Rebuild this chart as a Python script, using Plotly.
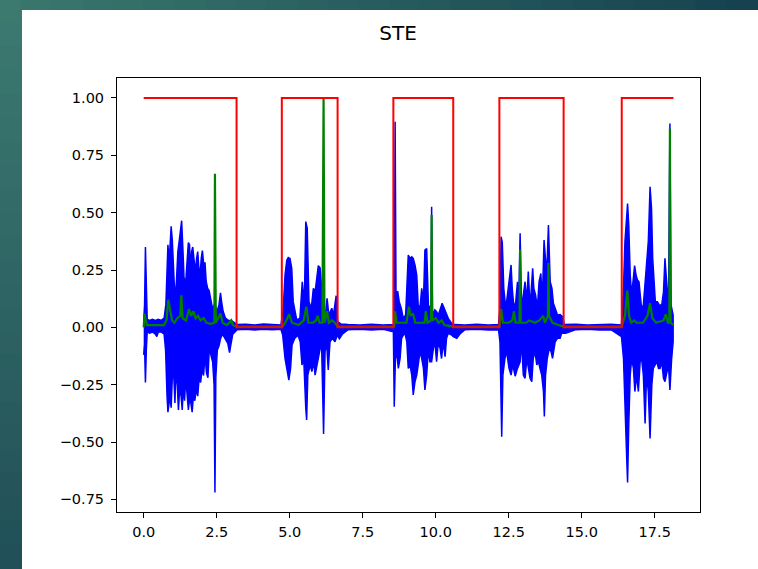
import plotly.graph_objects as go

# ---------------- data ----------------
# Signal envelope: upper and lower extents of the dense blue waveform
blue_hi_t = [0.00, 0.03, 0.06, 0.09, 0.12, 0.20, 0.30, 0.40, 0.50, 0.60, 0.70, 0.76, 0.80, 0.83, 0.87, 0.91, 0.94, 0.98,
             1.02, 1.07, 1.12, 1.17, 1.22, 1.27, 1.30, 1.34, 1.38, 1.43, 1.48, 1.53, 1.57, 1.60, 1.64, 1.68, 1.72, 1.77,
             1.81, 1.85, 1.89, 1.93, 1.97, 2.01, 2.05, 2.10, 2.14, 2.19, 2.24, 2.30, 2.36, 2.42, 2.46, 2.52, 2.58, 2.63,
             2.67, 2.72, 2.80, 2.90, 3.00, 3.10, 3.20, 3.50, 3.80, 4.10, 4.40, 4.70,
             4.78, 4.84, 4.90, 4.95, 5.01, 5.07, 5.12, 5.24, 5.35, 5.43, 5.50, 5.55, 5.60, 5.66, 5.74, 5.81, 5.87, 5.93,
             5.98, 6.04, 6.09, 6.15, 6.20, 6.28, 6.34, 6.44, 6.50, 6.59, 6.64, 6.75, 7.00, 7.40, 7.80, 8.20, 8.55,
             8.58, 8.61, 8.64, 8.70, 8.75, 8.82, 8.89, 8.97, 9.06, 9.12, 9.18, 9.23, 9.29, 9.35, 9.40, 9.46, 9.52, 9.58,
             9.63, 9.69, 9.75, 9.80, 9.84, 9.86, 9.89, 9.97, 10.03, 10.09, 10.15, 10.22, 10.29, 10.35, 10.43, 10.55,
             10.65, 11.00, 11.40, 11.80, 12.15,
             12.20, 12.24, 12.28, 12.33, 12.40, 12.47, 12.53, 12.58, 12.62, 12.68, 12.74, 12.80, 12.84, 12.89, 12.94,
             13.00, 13.06, 13.12, 13.17, 13.23, 13.29, 13.32, 13.36, 13.42, 13.48, 13.54, 13.60, 13.65, 13.71, 13.76,
             13.80, 13.86, 13.92, 13.98, 14.03, 14.09, 14.17, 14.26, 14.35, 14.40, 14.80, 15.20, 15.60, 16.00, 16.36,
             16.43, 16.48, 16.54, 16.57, 16.61, 16.66, 16.71, 16.77, 16.81, 16.86, 16.91, 16.96, 17.00, 17.05, 17.11,
             17.17, 17.22, 17.28, 17.34, 17.39, 17.43, 17.47, 17.52, 17.59, 17.66, 17.74, 17.80, 17.85, 17.91, 17.97,
             18.02, 18.06, 18.13]
blue_hi = [0.02, 0.10, 0.35, 0.12, 0.035, 0.03, 0.035, 0.03, 0.035, 0.03, 0.04, 0.10, 0.30, 0.36, 0.28, 0.40, 0.44, 0.38,
           0.22, 0.12, 0.20, 0.33, 0.38, 0.43, 0.465, 0.35, 0.22, 0.18, 0.30, 0.37, 0.36, 0.25, 0.33, 0.35, 0.30, 0.24,
           0.30, 0.33, 0.26, 0.22, 0.30, 0.335, 0.28, 0.28, 0.20, 0.17, 0.16, 0.11, 0.08, 0.10, 0.09, 0.07, 0.10, 0.15,
           0.11, 0.07, 0.04, 0.03, 0.03, 0.02, 0.012, 0.014, 0.010, 0.015, 0.012, 0.010,
           0.083, 0.228, 0.293, 0.304, 0.30, 0.257, 0.112, 0.032, 0.04, 0.199, 0.10, 0.461, 0.432, 0.112, 0.083, 0.170,
           0.155, 0.228, 0.269, 0.26, 0.170, 0.083, 0.025, 0.126, 0.054, 0.083, 0.054, 0.138, 0.025, 0.015, 0.012,
           0.010, 0.014, 0.010, 0.012,
           0.02, 0.896, 0.155, 0.155, 0.112, 0.083, 0.039, 0.054, 0.315, 0.301, 0.308, 0.301, 0.272, 0.228, 0.097,
           0.083, 0.170, 0.112, 0.337, 0.344, 0.097, 0.083, 0.10, 0.526, 0.054, 0.076, 0.068, 0.054, 0.083, 0.105,
           0.083, 0.061, 0.039, 0.017, 0.012, 0.010, 0.014, 0.010, 0.012,
           0.083, 0.395, 0.37, 0.170, 0.083, 0.155, 0.199, 0.272, 0.170, 0.083, 0.112, 0.199, 0.083, 0.410, 0.083,
           0.141, 0.199, 0.112, 0.243, 0.083, 0.228, 0.257, 0.170, 0.141, 0.083, 0.199, 0.235, 0.112, 0.381, 0.286,
           0.228, 0.446, 0.199, 0.170, 0.105, 0.083, 0.054, 0.056, 0.046, 0.012, 0.014, 0.010, 0.012, 0.014, 0.010,
           0.170, 0.374, 0.519, 0.540, 0.446, 0.228, 0.141, 0.228, 0.269, 0.228, 0.206, 0.199, 0.141, 0.083, 0.097,
           0.199, 0.308, 0.374, 0.613, 0.519, 0.301, 0.199, 0.112, 0.112, 0.097, 0.097, 0.155, 0.301, 0.170, 0.083,
           0.889, 0.097, 0.054]

blue_lo_t = [0.00, 0.03, 0.06, 0.09, 0.12, 0.20, 0.30, 0.40, 0.45, 0.50, 0.60, 0.70, 0.75, 0.80, 0.83, 0.86, 0.90, 0.94,
             0.98, 1.02, 1.07, 1.10, 1.15, 1.19, 1.23, 1.28, 1.32, 1.36, 1.40, 1.44, 1.48, 1.53, 1.58, 1.63, 1.66, 1.70,
             1.75, 1.80, 1.85, 1.90, 1.95, 2.00, 2.05, 2.10, 2.15, 2.20, 2.25, 2.30, 2.36, 2.41, 2.44, 2.47, 2.52, 2.58,
             2.63, 2.70, 2.80, 2.88, 2.94, 2.98, 3.05, 3.20, 3.50, 3.80, 4.10, 4.40, 4.70,
             4.76, 4.84, 4.90, 4.97, 5.03, 5.08, 5.17, 5.28, 5.36, 5.42, 5.48, 5.55, 5.58, 5.62, 5.70, 5.76, 5.82, 5.87,
             5.93, 6.00, 6.09, 6.16, 6.21, 6.26, 6.32, 6.38, 6.46, 6.55, 6.63, 6.70, 6.80, 7.00, 7.40, 7.80, 8.20,
             8.55, 8.58, 8.62, 8.66, 8.72, 8.78, 8.83, 8.89, 8.95, 9.01, 9.06, 9.12, 9.18, 9.23, 9.29, 9.35, 9.40, 9.46,
             9.52, 9.58, 9.63, 9.69, 9.75, 9.80, 9.86, 9.92, 9.97, 10.03, 10.09, 10.15, 10.20, 10.26, 10.32, 10.37,
             10.43, 10.55, 10.60, 10.72, 10.85, 11.00, 11.40, 11.80, 12.15,
             12.20, 12.26, 12.30, 12.37, 12.43, 12.51, 12.58, 12.64, 12.72, 12.80, 12.89, 12.94, 13.00, 13.06, 13.12,
             13.17, 13.23, 13.29, 13.34, 13.40, 13.46, 13.52, 13.57, 13.63, 13.69, 13.72, 13.76, 13.82, 13.89, 13.95,
             14.00, 14.09, 14.17, 14.26, 14.31, 14.45, 14.80, 15.20, 15.60, 16.00,
             16.36, 16.43, 16.48, 16.54, 16.57, 16.61, 16.66, 16.71, 16.77, 16.82, 16.88, 16.94, 17.00, 17.05, 17.11,
             17.17, 17.22, 17.28, 17.34, 17.40, 17.45, 17.51, 17.57, 17.63, 17.68, 17.74, 17.80, 17.85, 17.91, 17.97,
             18.02, 18.08, 18.13]
blue_lo = [-0.12, -0.08, -0.24, -0.10, -0.02, -0.025, -0.02, -0.03, -0.04, -0.02, -0.02, -0.03, -0.10, -0.30, -0.37,
           -0.36, -0.30, -0.35, -0.22, -0.18, -0.33, -0.20, -0.25, -0.36, -0.27, -0.30, -0.36, -0.25, -0.32, -0.22,
           -0.28, -0.36, -0.30, -0.34, -0.37, -0.30, -0.32, -0.27, -0.30, -0.22, -0.24, -0.18, -0.21, -0.12, -0.20,
           -0.22, -0.08, -0.12, -0.15, -0.25, -0.72, -0.22, -0.10, -0.08, -0.05, -0.03, -0.05, -0.07, -0.11, -0.08,
           -0.03, -0.010, -0.008, -0.012, -0.008, -0.010, -0.008,
           -0.034, -0.135, -0.179, -0.230, -0.179, -0.077, -0.048, -0.034, -0.063, -0.164, -0.135, -0.353, -0.404,
           -0.208, -0.164, -0.193, -0.150, -0.208, -0.179, -0.121, -0.063, -0.465, -0.106, -0.063, -0.186, -0.063,
           -0.048, -0.063, -0.034, -0.05, -0.03, -0.010, -0.008, -0.012, -0.008,
           -0.019, -0.346, -0.135, -0.106, -0.179, -0.135, -0.048, -0.034, -0.026, -0.063, -0.179, -0.164, -0.208,
           -0.295, -0.237, -0.208, -0.164, -0.106, -0.135, -0.179, -0.273, -0.208, -0.092, -0.150, -0.150, -0.092,
           -0.063, -0.150, -0.063, -0.092, -0.136, -0.063, -0.128, -0.048, -0.026, -0.034, -0.041, -0.048, -0.026,
           -0.010, -0.008, -0.012, -0.010,
           -0.063, -0.477, -0.208, -0.135, -0.106, -0.179, -0.208, -0.164, -0.213, -0.179, -0.150, -0.063, -0.208,
           -0.222, -0.135, -0.179, -0.222, -0.237, -0.135, -0.106, -0.164, -0.150, -0.179, -0.208, -0.280, -0.389,
           -0.208, -0.135, -0.092, -0.106, -0.135, -0.063, -0.048, -0.048, -0.026, -0.026, -0.010, -0.008, -0.012,
           -0.010,
           -0.040, -0.135, -0.324, -0.571, -0.676, -0.426, -0.208, -0.135, -0.179, -0.280, -0.208, -0.280, -0.150,
           -0.135, -0.208, -0.419, -0.208, -0.280, -0.484, -0.251, -0.179, -0.164, -0.150, -0.179, -0.179, -0.150,
           -0.222, -0.237, -0.208, -0.164, -0.273, -0.135, -0.063]

# Short-time energy (green)
ste_t = [0.00, 0.03, 0.07, 0.12, 0.70, 0.78, 0.84, 0.88, 0.92, 0.97, 1.05, 1.15, 1.25, 1.29, 1.33, 1.45, 1.55, 1.62,
         1.70, 1.78, 1.86, 1.95, 2.05, 2.15, 2.30, 2.42, 2.44, 2.47, 2.55, 2.63, 2.70, 2.85, 3.00, 3.05, 3.18, 4.75,
         4.85, 4.98, 5.08, 5.30, 5.48, 5.57, 5.64, 5.80, 5.90, 5.96, 6.02, 6.12, 6.16, 6.19, 6.28, 6.34, 6.45, 6.55,
         6.64, 8.58, 8.61, 8.66, 8.80, 9.00, 9.08, 9.14, 9.22, 9.30, 9.45, 9.62, 9.66, 9.72, 9.84, 9.86, 9.88, 10.00,
         10.10, 10.20, 10.30, 10.60, 12.18, 12.24, 12.30, 12.50, 12.62, 12.68, 12.73, 12.87, 12.89, 12.91, 13.10,
         13.20, 13.40, 13.55, 13.68, 13.74, 13.84, 13.86, 13.88, 14.00, 14.20, 14.38, 16.37, 16.48, 16.56, 16.62,
         16.70, 16.80, 16.88, 17.10, 17.25, 17.34, 17.42, 17.55, 17.80, 17.88, 17.95, 18.00, 18.02, 18.04, 18.14]
ste = [0.00, 0.06, 0.03, 0.01, 0.01, 0.03, 0.12, 0.09, 0.06, 0.03, 0.02, 0.04, 0.05, 0.14, 0.04, 0.03, 0.08, 0.05,
       0.07, 0.04, 0.05, 0.03, 0.04, 0.02, 0.015, 0.02, 0.67, 0.02, 0.04, 0.06, 0.02, 0.01, 0.03, 0.01, 0.003, 0.003,
       0.02, 0.057, 0.02, 0.01, 0.03, 0.09, 0.02, 0.02, 0.03, 0.05, 0.02, 0.02, 1.0, 0.02, 0.07, 0.02, 0.03, 0.02,
       0.003, 0.003, 0.07, 0.02, 0.02, 0.02, 0.09, 0.05, 0.06, 0.02, 0.02, 0.02, 0.07, 0.02, 0.03, 0.49, 0.03, 0.04,
       0.02, 0.03, 0.01, 0.003, 0.003, 0.08, 0.02, 0.02, 0.03, 0.07, 0.02, 0.02, 0.34, 0.02, 0.02,
       0.03, 0.02, 0.03, 0.05, 0.02, 0.05, 0.28, 0.05, 0.02, 0.01, 0.003, 0.003, 0.05, 0.16, 0.05,
       0.02, 0.03, 0.02, 0.02, 0.05, 0.105, 0.04, 0.02, 0.03, 0.057, 0.02, 0.02, 0.867, 0.02, 0.01]

# Voice-activity decision (red step): change times and the state that starts there
vad_t = [0.0, 3.18, 4.73, 6.64, 8.55, 10.60, 12.18, 14.38, 16.37, 18.14]
vad = [1, 0, 1, 0, 1, 0, 1, 0, 1, 1]

x_ticks = [0.0, 2.5, 5.0, 7.5, 10.0, 12.5, 15.0, 17.5]
y_ticks = [-0.75, -0.50, -0.25, 0.00, 0.25, 0.50, 0.75, 1.00]

# ---------------- figure ----------------
W, H = 758, 569
L, R, T, B = 117, 58, 78, 57
pw, ph = W - L - R, H - T - B

fig = go.Figure()

# waveform drawn as the band between its upper and lower envelope
fig.add_trace(go.Scatter(
    x=blue_hi_t + blue_lo_t[::-1], y=blue_hi + blue_lo[::-1],
    mode="lines", fill="toself", fillcolor="#0000ff",
    line=dict(color="#0000ff", width=1.5), hoverinfo="skip", showlegend=False))
fig.add_trace(go.Scatter(x=ste_t, y=ste, mode="lines",
                         line=dict(color="#008000", width=2.2), showlegend=False))
fig.add_trace(go.Scatter(x=vad_t, y=vad, mode="lines", line_shape="hv",
                         line=dict(color="#ff0000", width=2), showlegend=False))


def px2paper_x(px):
    return (px - L) / pw


def px2paper_y(py):
    return (H - B - py) / ph


def mix(c1, c2, f):
    return "rgb(%d,%d,%d)" % tuple(round(a + (b - a) * f) for a, b in zip(c1, c2))


shapes = []
# slide-like frame: left strip (vertical gradient) and top strip (horizontal gradient)
n = 24
top_c, bot_c = (60, 122, 112), (33, 80, 88)
for i in range(n):
    y0 = H * i / n - 1
    y1 = H * (i + 1) / n + 1
    shapes.append(dict(type="rect", xref="paper", yref="paper", layer="below",
                       x0=px2paper_x(-2), x1=px2paper_x(22), y0=px2paper_y(y1), y1=px2paper_y(y0),
                       fillcolor=mix(top_c, bot_c, i / (n - 1)), line=dict(width=0)))
left_c, right_c = (56, 118, 108), (22, 66, 80)
for i in range(n):
    x0 = 22 + (W - 22) * i / n - 1
    x1 = 22 + (W - 22) * (i + 1) / n + 1
    shapes.append(dict(type="rect", xref="paper", yref="paper", layer="below",
                       x0=px2paper_x(x0), x1=px2paper_x(x1), y0=px2paper_y(10), y1=px2paper_y(-2),
                       fillcolor=mix(left_c, right_c, i / (n - 1)), line=dict(width=0)))

font = "DejaVu Sans"
fig.update_layout(
    width=W, height=H,
    margin=dict(l=L, r=R, t=T, b=B, pad=0),
    paper_bgcolor="white", plot_bgcolor="white",
    shapes=shapes,
    title=dict(text="STE", x=398 / W, xref="container", xanchor="center",
               y=1 - 33 / H, yref="container", yanchor="middle",
               font=dict(family=font, size=20, color="black")),
    xaxis=dict(range=[-0.914, 19.05], tickvals=x_ticks, ticktext=["%.1f" % v for v in x_ticks],
               showgrid=False, zeroline=False, showline=True, mirror=True, linecolor="black", linewidth=1,
               ticks="outside", ticklen=5, tickwidth=1, tickcolor="black", ticklabelstandoff=2,
               tickfont=dict(family=font, size=14.5, color="black")),
    yaxis=dict(range=[-0.805, 1.087], tickvals=y_ticks,
               ticktext=[("%.2f" % v).replace("-", "\u2212") for v in y_ticks],
               showgrid=False, zeroline=False, showline=True, mirror=True, linecolor="black", linewidth=1,
               ticks="outside", ticklen=5, tickwidth=1, tickcolor="black", ticklabelstandoff=4,
               tickfont=dict(family=font, size=14.5, color="black")),
)

fig.write_html("out.html", config={"displayModeBar": False},
               post_script="document.body.style.margin='0';document.body.style.overflow='hidden';")
